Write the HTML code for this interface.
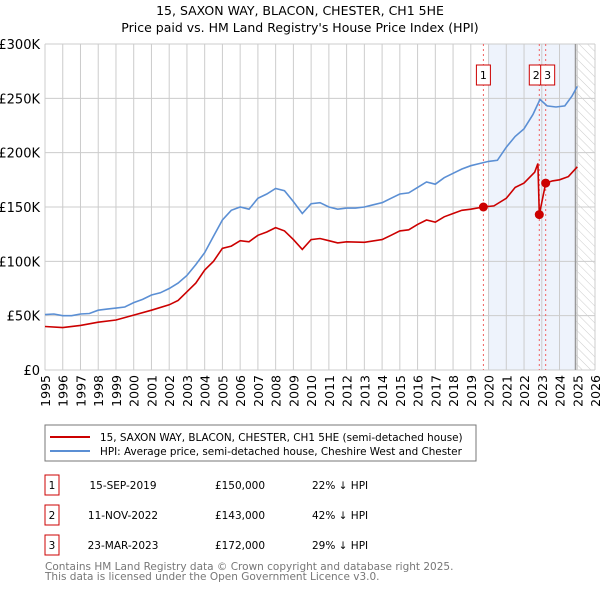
<!DOCTYPE html>
<html><head><meta charset="utf-8"><style>
body{margin:0;background:#fff;font-family:"Liberation Sans","DejaVu Sans",sans-serif;}
svg text{font-family:"DejaVu Sans","Liberation Sans",sans-serif;}
</style></head><body>
<svg id="c" width="600" height="590" viewBox="0 0 600 590" xmlns="http://www.w3.org/2000/svg">
<defs><pattern id="hatch" width="6" height="6" patternUnits="userSpaceOnUse" patternTransform="rotate(-45)"><line x1="0" y1="0" x2="0" y2="6" stroke="#ccc" stroke-width="1"/></pattern></defs>
<text x="300" y="15" text-anchor="middle" font-size="12.5">15, SAXON WAY, BLACON, CHESTER, CH1 5HE</text>
<text x="300" y="32" text-anchor="middle" font-size="12.5">Price paid vs. HM Land Registry's House Price Index (HPI)</text>
<g id="grid"></g><g id="marks"></g>
<rect x="45" y="425" width="431" height="36" fill="#fff" stroke="#777"/>
<line x1="50" y1="437" x2="90" y2="437" stroke="#cc0000" stroke-width="2"/>
<text x="100" y="441" font-size="10.4">15, SAXON WAY, BLACON, CHESTER, CH1 5HE (semi-detached house)</text>
<line x1="50" y1="451" x2="90" y2="451" stroke="#5b8fd4" stroke-width="2"/>
<text x="100" y="455" font-size="10.4">HPI: Average price, semi-detached house, Cheshire West and Chester</text>
<g id="table" font-size="10.5"></g>
<text x="45" y="570" font-size="10.5" fill="#777">Contains HM Land Registry data © Crown copyright and database right 2025.</text>
<text x="45" y="580" font-size="10.5" fill="#777">This data is licensed under the Open Government Licence v3.0.</text>
</svg>
<script>
const hpiYears=[1995,1995.5,1996,1996.5,1997,1997.5,1998,1998.5,1999,1999.5,2000,2000.5,2001,2001.5,2002,2002.5,2003,2003.5,2004,2004.5,2005,2005.5,2006,2006.5,2007,2007.5,2008,2008.5,2009,2009.5,2010,2010.5,2011,2011.5,2012,2012.5,2013,2013.5,2014,2014.5,2015,2015.5,2016,2016.5,2017,2017.5,2018,2018.5,2019,2019.5,2020,2020.5,2021,2021.5,2022,2022.5,2022.9,2023.3,2023.8,2024.3,2024.7,2025];
const hpiValues=[51,51.5,50,50,51.5,52,55,56,57,58,62,65,69,71,75,80,87,97,108,123,138,147,150,148,158,162,167,165,155,144,153,154,150,148,149,149,150,152,154,158,162,163,168,173,171,177,181,185,188,190,192,193,205,215,222,235,249,243,242,243,252,261];
const propYears=[1995,1996,1997,1998,1999,2000,2001,2002,2002.5,2003,2003.5,2004,2004.5,2005,2005.5,2006,2006.5,2007,2007.5,2008,2008.5,2009,2009.5,2010,2010.5,2011,2011.5,2012,2013,2014,2014.5,2015,2015.5,2016,2016.5,2017,2017.5,2018,2018.5,2019,2019.71,2020.3,2021,2021.5,2022,2022.6,2022.78,2022.86,2023.22,2023.6,2024,2024.5,2025];
const propValues=[40,39,41,44,46,50.5,55,60,64,72,80,92,100,112,114,119,118,124,127,131,128,120,111,120,121,119,117,118,117.5,120,124,128,129,134,138,136,141,144,147,148,150,151,158,168,172,182,190,143,172,174,175,178,187];
const saleLabels=["1","2","3"];
const saleYears=[2019.71,2022.86,2023.22];
const saleValues=[150,143,172];
const saleDates=["15-SEP-2019","11-NOV-2022","23-MAR-2023"];
const salePrices=["£150,000","£143,000","£172,000"];
const saleDiffs=["22% ↓ HPI","42% ↓ HPI","29% ↓ HPI"];
const yTicks=[0,50,100,150,200,250,300];
const yTickLabels=["£0","£50K","£100K","£150K","£200K","£250K","£300K"];
const xTicks=[1995,1996,1997,1998,1999,2000,2001,2002,2003,2004,2005,2006,2007,2008,2009,2010,2011,2012,2013,2014,2015,2016,2017,2018,2019,2020,2021,2022,2023,2024,2025,2026];
const NS="http://www.w3.org/2000/svg";
const X0=45,X1=595,Y0=370,Y1=44;
const xs=y=>X0+(y-1995)/(2026-1995)*(X1-X0);
const ys=v=>Y0-v/300*(Y0-Y1);
function mk(t,a,p){const e=document.createElementNS(NS,t);for(const k in a)e.setAttribute(k,a[k]);p.appendChild(e);return e;}
const g=document.getElementById('grid'),m=document.getElementById('marks'),tb=document.getElementById('table');
let r=mk('rect',{x:xs(2020),y:Y1,width:xs(2024.9)-xs(2020),height:Y0-Y1,fill:'#eef3fc'},g);


r=mk('rect',{x:xs(2024.9),y:Y1,width:X1-xs(2024.9),height:Y0-Y1,fill:'url(#hatch)'},g);


yTicks.forEach((v,i)=>{
 let l=mk('line',{x1:X0,x2:X1,y1:ys(v),y2:ys(v),stroke:'#ccc'},g);
 
 
 let t=mk('text',{x:40,y:ys(v)+5,'text-anchor':'end','font-size':13},g);t.textContent=yTickLabels[i];
 
 
});
xTicks.forEach(v=>{
 let l=mk('line',{x1:xs(v),x2:xs(v),y1:Y1,y2:Y0,stroke:'#ccc'},g);
 
 
 let t=mk('text',{x:0,y:0,'font-size':12.5,'text-anchor':'end',transform:`translate(${xs(v)+5},375) rotate(-90)`},g);t.textContent=v;
 
 
});
let vl=mk('line',{x1:xs(2024.9),x2:xs(2024.9),y1:Y1,y2:Y0,stroke:'#999','stroke-width':1.5},g);


saleYears.forEach((y,i)=>{
 let l=mk('line',{x1:xs(y),x2:xs(y),y1:Y1,y2:Y0,stroke:'#f06060','stroke-dasharray':'2,3'},m);
 
 
});
function path(xa,va,c,n){let d=xa.map((y,i)=>(i?'L':'M')+xs(y).toFixed(1)+','+ys(va[i]).toFixed(1)).join('');
 let p=mk('path',{d:d,fill:'none',stroke:c,'stroke-width':1.6},m);
 
 }
path(hpiYears,hpiValues,'#5b8fd4','hpi-line');
path(propYears,propValues,'#cc0000','property-line');
saleYears.forEach((y,i)=>{
 let c=mk('circle',{cx:xs(y),cy:ys(saleValues[i]),r:4.5,fill:'#cc0000'},m);
 
 
 const bx=xs(y)-(i==1?10:(i==2?-1:7)) - (i==2?6:0);
 let b=mk('rect',{x:bx,y:65,width:14,height:20,fill:'#fff',stroke:'#cc0000'},m);
 
 
 let t=mk('text',{x:bx+7,y:79,'text-anchor':'middle','font-size':11},m);t.textContent=saleLabels[i];
 
 
 const ry=475+i*30;
 let rb=mk('rect',{x:45,y:ry,width:14,height:20,fill:'#fff',stroke:'#cc0000'},tb);
 
 
 const cells=[[52,saleLabels[i],'middle'],[123,saleDates[i],'middle'],[240,salePrices[i],'middle'],[312,saleDiffs[i],'start']];
 cells.forEach(cl=>{let tt=mk('text',{x:cl[0],y:ry+14,'text-anchor':cl[2]},tb);tt.textContent=cl[1];
  
  });
});
</script>
</body></html>
